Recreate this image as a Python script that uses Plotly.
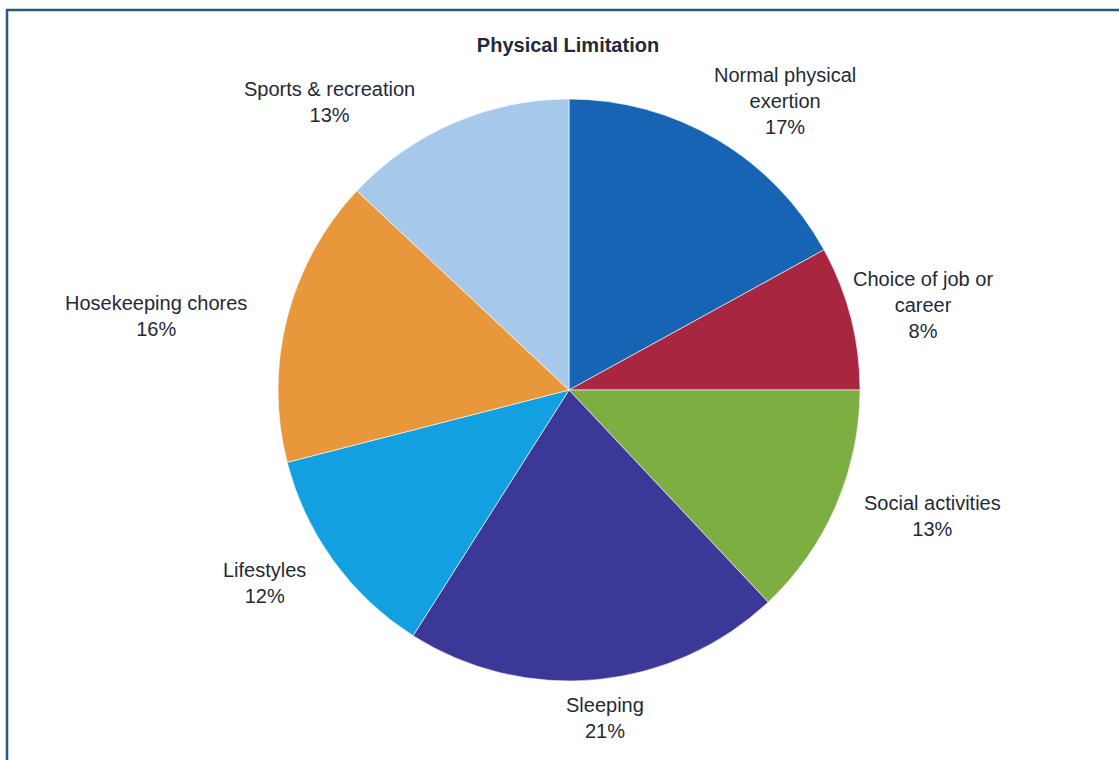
import math
import plotly.graph_objects as go

# Share of respondents reporting each kind of physical limitation
categories = [
    "Normal physical<br>exertion",
    "Choice of job or<br>career",
    "Social activities",
    "Sleeping",
    "Lifestyles",
    "Hosekeeping chores",
    "Sports & recreation",
]
percentages = [17, 8, 13, 21, 12, 16, 13]
slice_colors = ["#1764b4", "#a8263f", "#7cae42", "#3b3897", "#12a0e0", "#e8983a", "#a6c8ea"]

# small pixel nudges applied to each outside label after radial placement
label_nudge = [(-9, 7), (-8, -11), (19, -19), (8, 4), (-19, -9), (-30, 0), (-33, 12)]

W, H = 1119, 760
cx, cy, r = 569, 390, 291  # pie centre / radius in pixels
label_gap = 8
FONT = "Liberation Sans, Arial, sans-serif"
TEXT_COLOR = "#1f2a36"

fig = go.Figure(
    go.Pie(
        labels=[c.replace("<br>", " ") for c in categories],
        values=percentages,
        textinfo="none",
        sort=False,
        direction="clockwise",
        rotation=0,
        automargin=False,
        marker=dict(colors=slice_colors, line=dict(color="white", width=0.6)),
        showlegend=False,
        hoverinfo="label+percent",
        domain=dict(
            x=[(cx - 400) / W, (cx + 400) / W],
            y=[(H - cy - r) / H, (H - cy + r) / H],
        ),
    )
)

# outside labels: anchored just beyond the rim at each slice's mid-angle
total = sum(percentages)
annotations = []
running = 0.0
for name, val, (ndx, ndy) in zip(categories, percentages, label_nudge):
    mid = (running + val / 2) / total * 2 * math.pi  # clockwise from 12 o'clock
    running += val
    s, c = math.sin(mid), math.cos(mid)
    px = cx + (r + label_gap) * s + ndx
    py = cy - (r + label_gap) * c + ndy
    xanchor = "left" if s > 0.3 else ("right" if s < -0.3 else "center")
    yanchor = "bottom" if c > 0.3 else ("top" if c < -0.3 else "middle")
    annotations.append(
        dict(
            x=px / W, y=1 - py / H, xref="paper", yref="paper",
            text=f"{name}<br>{val}%", showarrow=False, align="center",
            xanchor=xanchor, yanchor=yanchor,
            font=dict(family=FONT, size=20, color=TEXT_COLOR),
        )
    )

fig.update_layout(
    width=W,
    height=H,
    autosize=False,
    margin=dict(l=0, r=0, t=0, b=0, pad=0, autoexpand=False),
    paper_bgcolor="white",
    plot_bgcolor="white",
    title=dict(
        text="<b>Physical Limitation</b>",
        x=568 / W,
        xanchor="center",
        y=1 - 45 / H,
        yanchor="middle",
        font=dict(family=FONT, size=20, color=TEXT_COLOR),
    ),
    annotations=annotations,
    shapes=[
        dict(
            type="rect", xref="paper", yref="paper",
            x0=7 / W, x1=1.05, y0=-0.05, y1=1 - 10 / H,
            line=dict(color="#2b5a7a", width=2.5),
            fillcolor="rgba(0,0,0,0)",
        )
    ],
)

fig.write_html("out.html")
